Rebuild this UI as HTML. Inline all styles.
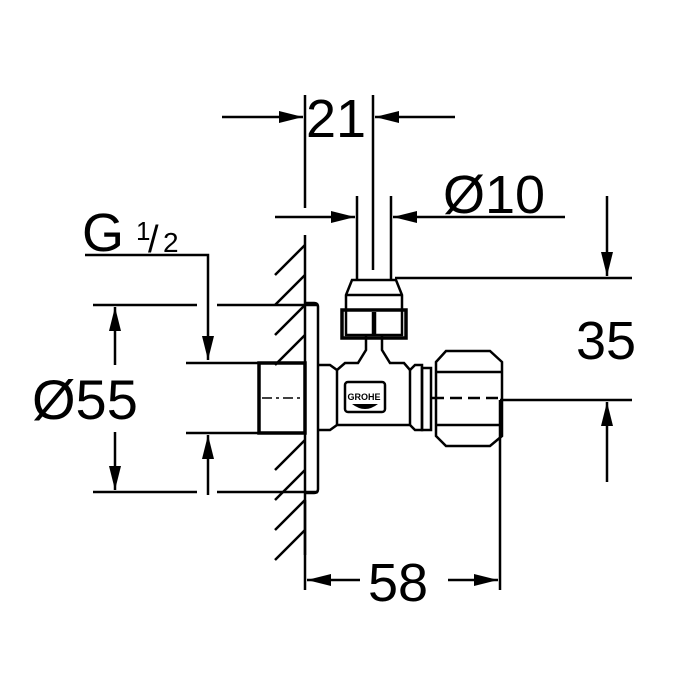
<!DOCTYPE html>
<html><head><style>
html,body{margin:0;padding:0;background:#fff;width:700px;height:700px;overflow:hidden}
text{font-family:"Liberation Sans",sans-serif;fill:#000}
</style></head><body>
<svg width="700" height="700" viewBox="0 0 700 700" xmlns="http://www.w3.org/2000/svg">
<defs>
<marker id="a" markerWidth="24" markerHeight="12" refX="24" refY="6" orient="auto" markerUnits="userSpaceOnUse" viewBox="0 0 24 12">
<path d="M0,0 L24,6 L0,12 z" fill="#000"/></marker>
</defs>
<g stroke="#000" stroke-width="2.5" fill="none">
<line x1="305" y1="95" x2="305" y2="208"/>
<line x1="373" y1="95" x2="373" y2="270"/>
<line x1="222" y1="117" x2="303" y2="117" marker-end="url(#a)"/>
<line x1="455" y1="117" x2="375" y2="117" marker-end="url(#a)"/>
<line x1="275" y1="217" x2="355" y2="217" marker-end="url(#a)"/>
<line x1="565" y1="217" x2="393" y2="217" marker-end="url(#a)"/>
<line x1="357" y1="196" x2="357" y2="280"/>
<line x1="391" y1="196" x2="391" y2="280"/>
<line x1="395" y1="278" x2="632" y2="278"/>
<line x1="500" y1="400" x2="632" y2="400"/>
<line x1="607" y1="196" x2="607" y2="276" marker-end="url(#a)"/>
<line x1="607" y1="482" x2="607" y2="402" marker-end="url(#a)"/>
<line x1="93" y1="305" x2="197" y2="305"/>
<line x1="217" y1="305" x2="318" y2="305"/>
<line x1="93" y1="492" x2="197" y2="492"/>
<line x1="217" y1="492" x2="318" y2="492"/>
<line x1="115" y1="365" x2="115" y2="307" marker-end="url(#a)"/>
<line x1="115" y1="432" x2="115" y2="490" marker-end="url(#a)"/>
<polyline points="85,255 208,255 208,360" marker-end="url(#a)"/>
<line x1="208" y1="495" x2="208" y2="435" marker-end="url(#a)"/>
<line x1="186" y1="363" x2="258" y2="363"/>
<line x1="186" y1="433" x2="258" y2="433"/>
<line x1="305" y1="500" x2="305" y2="590"/>
<line x1="500" y1="400" x2="500" y2="590"/>
<line x1="360" y1="580" x2="307" y2="580" marker-end="url(#a)"/>
<line x1="448" y1="580" x2="498" y2="580" marker-end="url(#a)"/>
<line x1="305" y1="235" x2="305" y2="555"/>
<path d="M305,245 L275,275 M305,275 L275,305 M305,305 L275,335 M305,335 L275,365 M305,440 L275,470 M305,470 L275,500 M305,500 L275,530 M305,530 L275,560" />
<path d="M305,303 L314,303 Q318,303 318,307 L318,489 Q318,493 314,493 L305,493"/>
<rect x="259" y="363" width="46" height="70" stroke-width="3.5"/>
<line x1="262" y1="398" x2="305" y2="398" stroke-dasharray="10,4,3,4" stroke-width="1.5"/>
<path d="M318,365 L330,365 L337,370 L345,363 L358,363 L366,350 L366,335 M318,430 L330,430 L337,425 L410,425 L415,430 L422,430 L422,365 L415,365 L410,370 L404,363 L390,363 L382,350 L382,335"/>
<line x1="337" y1="370" x2="337" y2="425"/>
<line x1="410" y1="370" x2="410" y2="425"/>
<rect x="345" y="382" width="40" height="30" rx="3"/>
<path d="M346,335 L346,295 L352,280 L396,280 L402,295 L402,335 Z"/>
<line x1="346" y1="295" x2="402" y2="295"/>
<rect x="342" y="310" width="64" height="28" stroke-width="3.5"/>
<line x1="373" y1="312" x2="373" y2="336"/>
<line x1="375" y1="312" x2="375" y2="336"/>
<rect x="422" y="368" width="9" height="62"/>
<path d="M436,362 L446,351 L490,351 L502,362 L502,436 L490,446 L446,446 L436,436 Z"/>
<line x1="436" y1="372" x2="502" y2="372"/>
<line x1="436" y1="425" x2="502" y2="425"/>
<line x1="432" y1="398" x2="500" y2="398" stroke-dasharray="12,6"/>
</g>
<text x="364" y="400" font-size="9" font-weight="bold" text-anchor="middle">GROHE</text>
<path d="M352,404 Q365,414 378,404 Z" fill="#000"/>
<text x="306" y="137" font-size="54">21</text>
<text x="443" y="213" font-size="54">Ø10</text>
<text x="576" y="359" font-size="54">35</text>
<text x="32" y="419" font-size="56">Ø55</text>
<text x="368" y="601" font-size="54">58</text>
<text x="82" y="251" font-size="54">G</text>
<text x="136" y="240" font-size="26">1</text>
<text x="148" y="252" font-size="38">/</text>
<text x="163" y="252" font-size="28">2</text>
</svg>
</body></html>
